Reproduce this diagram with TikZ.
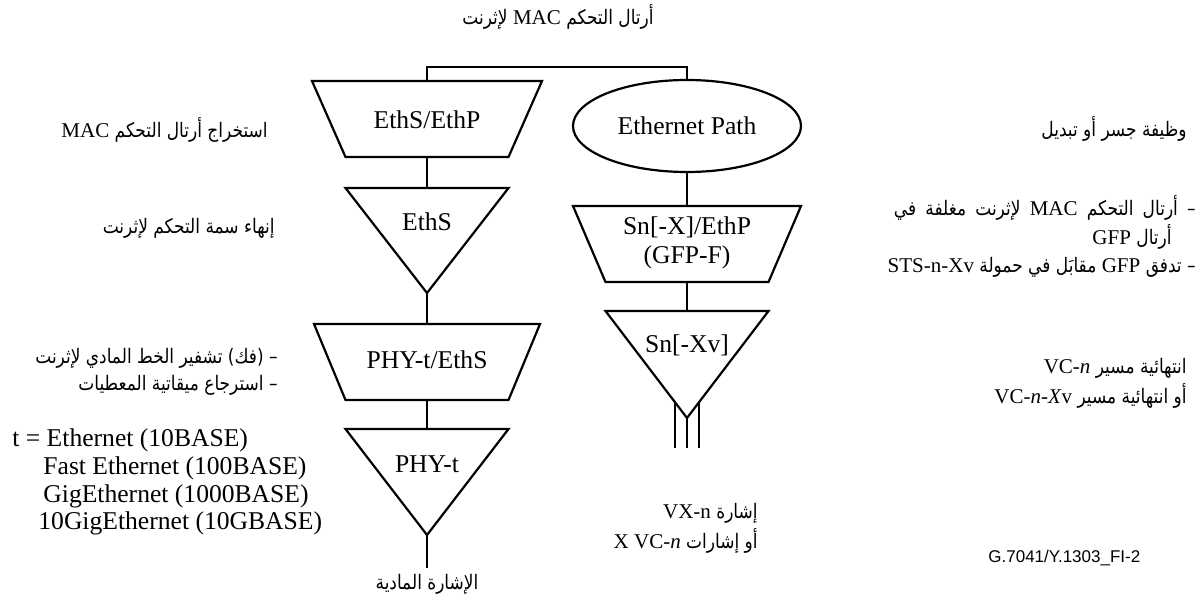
\documentclass[tikz,border=0pt]{standalone}
\usepackage{fontspec}
\usetikzlibrary{shapes.geometric}
\setmainfont{Liberation Serif}
\newfontfamily\arabicfont[Script=Arabic, FakeStretch=0.85]{DejaVu Sans}
\newfontfamily\arialfont{Liberation Sans}
\TeXXeTstate=1
% Arabic run, right to left
\newcommand\ar[1]{{\arabicfont\beginR #1\endR}}
% Latin words inside an Arabic run
\newcommand\lt[1]{\beginL{\rmfamily\fontsize{10.5}{12}\selectfont #1}\endL{}}
\tikzset{
  blk/.style={line width=1.1pt, line join=miter},
  wire/.style={line width=0.55pt},
  lbl/.style={font=\fontsize{12.8}{14.5}\selectfont, inner sep=0pt},
  arl/.style={font=\fontsize{10}{12}\selectfont, inner sep=0pt, anchor=east},
  arc/.style={font=\fontsize{10}{12}\selectfont, inner sep=0pt},
  tl/.style={font=\fontsize{12.8}{14.5}\selectfont, inner sep=0pt, anchor=west},
}
\begin{document}
\begin{tikzpicture}[x=0.5pt,y=-0.5pt]
\useasboundingbox (0,0) rectangle (1203,605);

% ---------- left column ----------
\draw[blk] (312,81) -- (542,81) -- (508.5,157) -- (345.5,157) -- cycle;
\node[lbl] (ethsp) at (427,120) {EthS/EthP};
\coordinate (ethsp-t) at (427,81);
\coordinate (ethsp-b) at (427,157);

\draw[blk] (345.5,188) -- (508.5,188) -- (427,293) -- cycle;
\node[lbl] (eths) at (427,222) {EthS};
\coordinate (eths-t) at (427,188);
\coordinate (eths-b) at (427,293);

\draw[blk] (314,324) -- (540,324) -- (508.5,400) -- (345.5,400) -- cycle;
\node[lbl] (phyeths) at (427,360) {PHY-t/EthS};
\coordinate (phyeths-t) at (427,324);
\coordinate (phyeths-b) at (427,400);

\draw[blk] (345.5,429) -- (508.5,429) -- (427,535) -- cycle;
\node[lbl] (phy) at (427,464) {PHY-t};
\coordinate (phy-t) at (427,429);
\coordinate (phy-b) at (427,535);
\coordinate (physig) at (427,568);
\node[arc] (physlbl) at (427,584) {\ar{الإشارة المادية}};

\draw[wire] (ethsp-b) -- (eths-t);
\draw[wire] (eths-b) -- (phyeths-t);
\draw[wire] (phyeths-b) -- (phy-t);
\draw[wire] (phy-b) -- (physig);

% ---------- right column ----------
\node[blk, draw, ellipse, minimum width=114pt, minimum height=46pt, inner sep=0pt,
      font=\fontsize{12.8}{14.5}\selectfont] (ethpath) at (687,126) {Ethernet Path};

\draw[blk] (573,206) -- (801,206) -- (768.5,282) -- (605.5,282) -- cycle;
\node[lbl, align=center] (snx) at (687,242.5) {Sn[-X]/EthP\\(GFP-F)};
\coordinate (snx-t) at (687,206);
\coordinate (snx-b) at (687,282);

\draw[blk] (605.5,311) -- (768.5,311) -- (687,418) -- cycle;
\node[lbl] (snxv) at (687,345) {Sn[-Xv]};
\coordinate (snxv-t) at (687,311);
\coordinate (snxv-b) at (687,418);
\coordinate (vl) at (675,402.2);
\coordinate (vr) at (699,402.2);
\coordinate (vl-e) at (675,448);
\coordinate (vm-e) at (687,448);
\coordinate (vr-e) at (699,448);

\draw[wire] (ethpath.south) -- (snx-t);
\draw[wire] (snx-b) -- (snxv-t);
\draw[wire] (vl) -- (vl-e);
\draw[wire] (snxv-b) -- (vm-e);
\draw[wire] (vr) -- (vr-e);

% ---------- bracket joining both columns ----------
\coordinate (brk) at (427,67);
\draw[wire] (ethsp-t) -- (brk) -| (ethpath.north);
\node[arc] (title) at (558,17) {\ar{أرتال التحكم \lt{MAC} لإثرنت}};

% ---------- left annotations ----------
\node[arl] (a1) at (268,130) {\ar{استخراج أرتال التحكم \lt{MAC}}};
\node[arl] (a2) at (275,228) {\ar{إنهاء سمة التحكم لإثرنت}};
\node[arl] (a3) at (278,358) {\ar{– (فك) تشفير الخط المادي لإثرنت}};
\node[arl] (a4) at (278,385) {\ar{– استرجاع ميقاتية المعطيات}};

\node[tl] (t1) at (12,440) {t = Ethernet (10BASE)};
\node[tl] (t2) at (43,468) {Fast Ethernet (100BASE)};
\node[tl] (t3) at (43,496) {GigEthernet (1000BASE)};
\node[tl] (t4) at (38,523) {10GigEthernet (10GBASE)};

% ---------- right annotations ----------
\node[arl] (b1) at (1187,129) {\ar{وظيفة جسر أو تبديل}};
\node[arl] (b2) at (1196,208) {\spaceskip=4.6pt\ar{– أرتال التحكم \lt{MAC} لإثرنت مغلفة في}};
\node[arl] (b3) at (1172,237) {\ar{أرتال \lt{GFP}}};
\node[arl] (b4) at (1196,267) {\ar{– تدفق \lt{GFP} مقابَل في حمولة \lt{STS-n-Xv}}};

\node[arl] (c1) at (1187,368) {\ar{انتهائية مسير \lt{VC-\textit{n}}}};
\node[arl] (c2) at (1187,396) {\ar{أو انتهائية مسير \lt{VC-\textit{n-X}v}}};

\node[arl] (d1) at (758,513) {\ar{إشارة \lt{VX-n}}};
\node[arl] (d2) at (758,541) {\ar{أو إشارات \lt{X VC-\textit{n}}}};

\node[inner sep=0pt, anchor=west, font=\arialfont\fontsize{8.5}{10}\selectfont] (ref) at (988,558) {G.7041/Y.1303\_FI-2};
\end{tikzpicture}
\end{document}
